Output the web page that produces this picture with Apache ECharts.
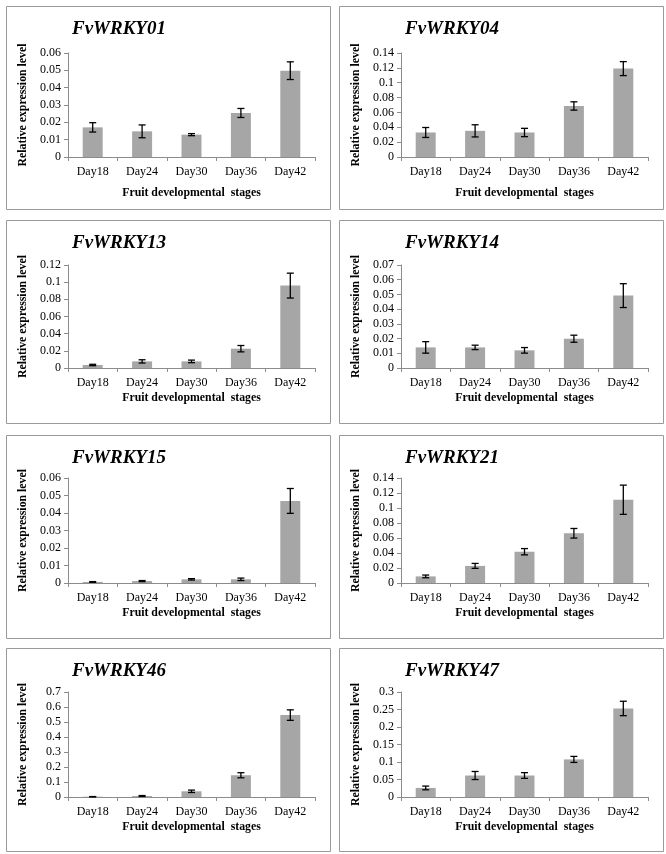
<!DOCTYPE html>
<html>
<head>
<meta charset="utf-8">
<script src="https://cdn.jsdelivr.net/npm/echarts@6/dist/echarts.min.js"></script>
<style>
html,body{margin:0;padding:0;background:#fff;}
#chart{width:666px;height:854px;}
</style>
</head>
<body>
<div id="chart"></div>
<script>
// ---- data ----
const categories = ['Day18', 'Day24', 'Day30', 'Day36', 'Day42'];
const genes = ['FvWRKY01', 'FvWRKY04', 'FvWRKY13', 'FvWRKY14', 'FvWRKY15', 'FvWRKY21', 'FvWRKY46', 'FvWRKY47'];

const fvwrky01 = [0.0171, 0.0148, 0.0129, 0.0254, 0.0498];
const fvwrky01Err = [0.0027, 0.0037, 0.0006, 0.0026, 0.0051];
const fvwrky04 = [0.033, 0.0352, 0.033, 0.0687, 0.119];
const fvwrky04Err = [0.0067, 0.0082, 0.0056, 0.0056, 0.0094];
const fvwrky13 = [0.0035, 0.0077, 0.0077, 0.0225, 0.096];
const fvwrky13Err = [0.0008, 0.0019, 0.0015, 0.0037, 0.0145];
const fvwrky14 = [0.014, 0.014, 0.012, 0.0199, 0.0492];
const fvwrky14Err = [0.0039, 0.0015, 0.0019, 0.0024, 0.0081];
const fvwrky15 = [0.0006, 0.0011, 0.0021, 0.0021, 0.0469];
const fvwrky15Err = [0.0002, 0.0003, 0.0004, 0.0007, 0.0071];
const fvwrky21 = [0.0088, 0.0228, 0.0417, 0.0663, 0.111];
const fvwrky21Err = [0.0018, 0.0033, 0.0042, 0.0064, 0.0195];
const fvwrky46 = [0.002, 0.0067, 0.038, 0.145, 0.546];
const fvwrky46Err = [0.001, 0.003, 0.008, 0.017, 0.035];
const fvwrky47 = [0.0259, 0.0614, 0.0614, 0.1074, 0.253];
const fvwrky47Err = [0.0053, 0.0115, 0.0082, 0.0086, 0.0206];

const yMax = [0.06, 0.14, 0.12, 0.07, 0.06, 0.14, 0.7, 0.3];
const yInterval = [0.01, 0.02, 0.02, 0.01, 0.01, 0.02, 0.1, 0.05];

const seriesValues = [fvwrky01, fvwrky04, fvwrky13, fvwrky14, fvwrky15, fvwrky21, fvwrky46, fvwrky47];
const seriesErrors = [fvwrky01Err, fvwrky04Err, fvwrky13Err, fvwrky14Err, fvwrky15Err, fvwrky21Err, fvwrky46Err, fvwrky47Err];

const xTitle = 'Fruit developmental  stages';
const yTitle = 'Relative expression level';

// ---- layout ----
const panelLeft = [4, 337];
const panelTop = [4, 218, 433, 646];
const panelW = 324, panelH = 203;
const gridTopRel = [49, 47, 45, 46];
const gridBottomRel = [153, 150, 150, 151];
const xNameGap = [30, 24, 24, 24];
const serif = '"Liberation Serif", "Times New Roman", serif';

const grids = [], xAxes = [], yAxes = [], series = [], titles = [], graphics = [];

genes.forEach((g, i) => {
  const col = i % 2, row = Math.floor(i / 2);
  const pl = panelLeft[col], pt = panelTop[row];
  graphics.push({
    type: 'rect', left: pl, top: pt, silent: true,
    shape: { width: panelW, height: panelH },
    style: { fill: 'none', stroke: '#9a9a9a', lineWidth: 1 }
  });
  grids.push({
    left: pl + 64, top: pt + gridTopRel[row], width: 247,
    height: gridBottomRel[row] - gridTopRel[row], containLabel: false
  });
  titles.push({
    text: g, left: pl + 68, top: pt + 16, padding: 0,
    textStyle: { fontFamily: serif, fontSize: 19, fontWeight: 'bold', fontStyle: 'italic', color: '#000' }
  });
  xAxes.push({
    type: 'category', gridIndex: i, data: categories,
    name: xTitle, nameLocation: 'middle', nameGap: xNameGap[row],
    nameTextStyle: { fontFamily: serif, fontSize: 11.8, fontWeight: 'bold', color: '#000' },
    axisLine: { lineStyle: { color: '#8c8c8c', width: 1 } },
    axisTick: { show: true, length: 4, lineStyle: { color: '#8c8c8c' } },
    axisLabel: { fontFamily: serif, fontSize: 12, color: '#000', margin: 9 },
    splitLine: { show: false }
  });
  yAxes.push({
    type: 'value', gridIndex: i, min: 0, max: yMax[i], interval: yInterval[i],
    name: yTitle, nameLocation: 'middle', nameGap: 39,
    nameTextStyle: { fontFamily: serif, fontSize: 11.8, fontWeight: 'bold', color: '#000' },
    axisLine: { show: true, lineStyle: { color: '#8c8c8c', width: 1 } },
    axisTick: { show: true, length: 4, lineStyle: { color: '#8c8c8c' } },
    axisLabel: { fontFamily: serif, fontSize: 12, color: '#000', margin: 7,
      formatter: v => String(+v.toFixed(4)) },
    splitLine: { show: false }
  });
  series.push({
    type: 'bar', xAxisIndex: i, yAxisIndex: i, barWidth: 20,
    data: seriesValues[i],
    itemStyle: { color: '#a6a6a6' },
    silent: true
  });
  series.push({
    type: 'custom', xAxisIndex: i, yAxisIndex: i, silent: true, z: 5,
    data: seriesValues[i].map((v, k) => [k, v, seriesErrors[i][k]]),
    encode: { x: 0, y: 1 },
    renderItem: (params, api) => {
      const x = api.value(0), y = api.value(1), e = api.value(2);
      const hi = api.coord([x, y + e]);
      const lo = api.coord([x, y - e]);
      const cap = 3.5;
      const st = { stroke: '#000', lineWidth: 1.3 };
      return {
        type: 'group',
        children: [
          { type: 'line', shape: { x1: hi[0], y1: hi[1], x2: lo[0], y2: lo[1] }, style: st },
          { type: 'line', shape: { x1: hi[0] - cap, y1: hi[1], x2: hi[0] + cap, y2: hi[1] }, style: st },
          { type: 'line', shape: { x1: lo[0] - cap, y1: lo[1], x2: lo[0] + cap, y2: lo[1] }, style: st }
        ]
      };
    }
  });
});

const chart = echarts.init(document.getElementById('chart'), null, { renderer: 'canvas' });
chart.setOption({
  backgroundColor: '#fff',
  animation: false,
  title: titles,
  grid: grids,
  xAxis: xAxes,
  yAxis: yAxes,
  series: series,
  graphic: graphics
});
</script>
</body>
</html>
